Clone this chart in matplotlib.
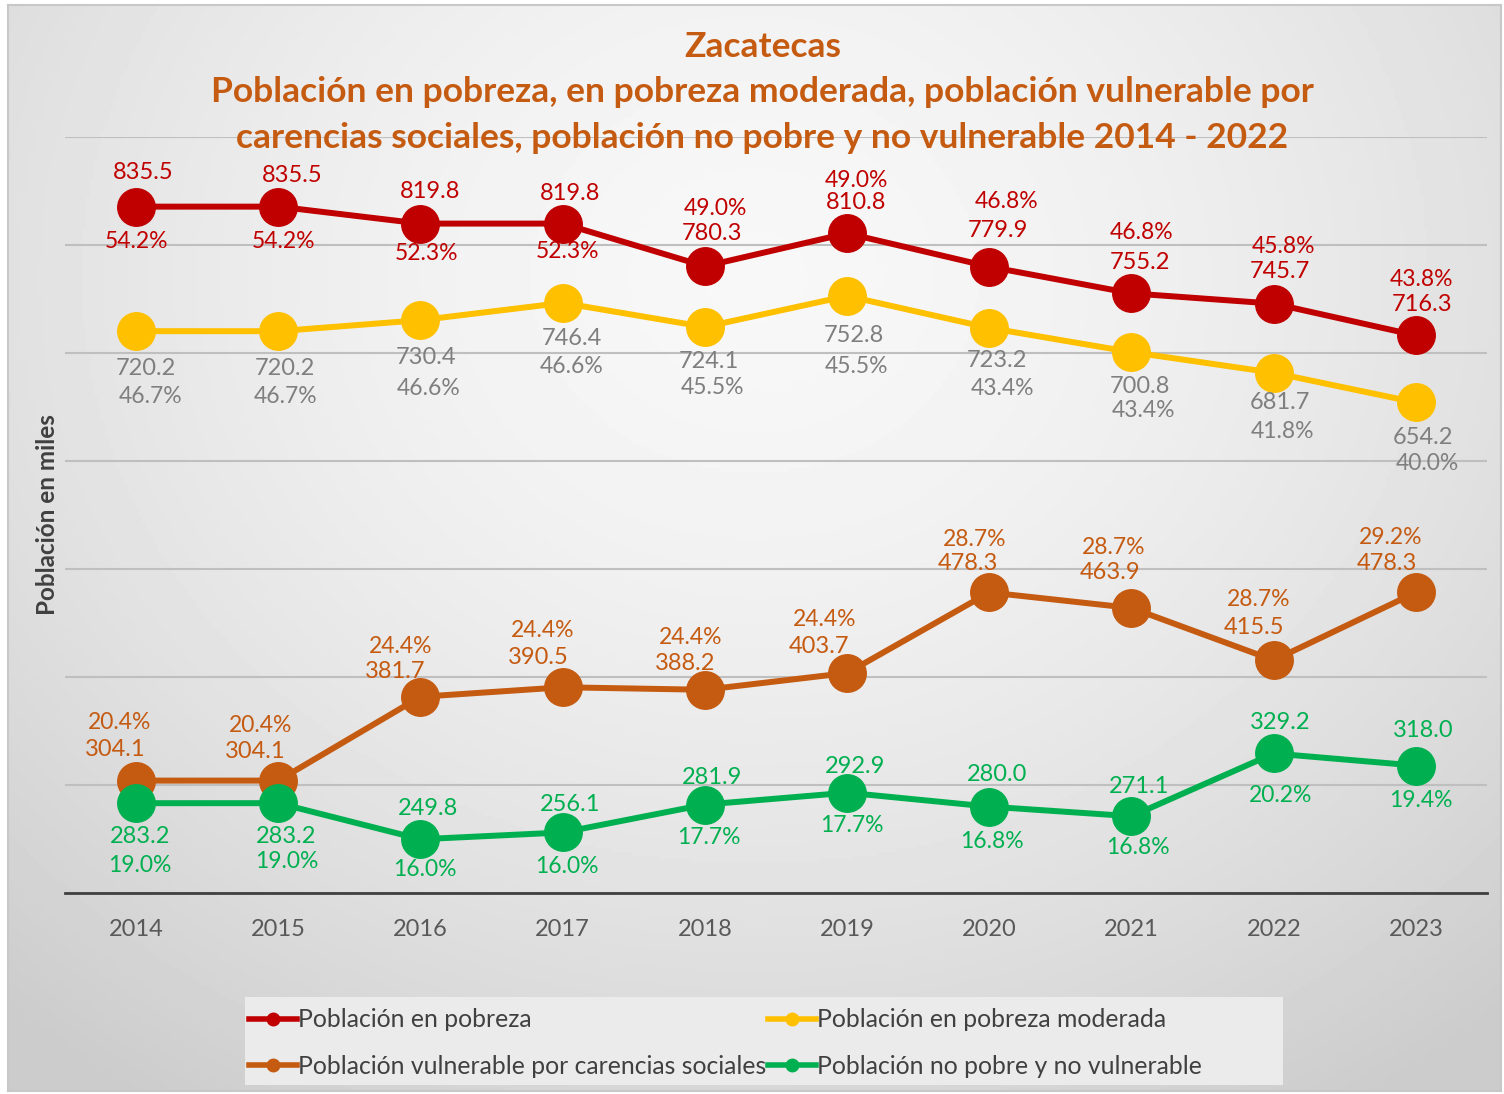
import numpy as np
import matplotlib.pyplot as plt
from matplotlib.lines import Line2D
from matplotlib.patches import Rectangle

plt.rcParams['font.family'] = ['Lato', 'DejaVu Sans']

# datos
anios = ['2014', '2015', '2016', '2017', '2018', '2019', '2020', '2021', '2022', '2023']
pobreza = [835.5, 835.5, 819.8, 819.8, 780.3, 810.8, 779.9, 755.2, 745.7, 716.3]
pobreza_pct = ['54.2%', '54.2%', '52.3%', '52.3%', '49.0%', '49.0%', '46.8%', '46.8%', '45.8%', '43.8%']
moderada = [720.2, 720.2, 730.4, 746.4, 724.1, 752.8, 723.2, 700.8, 681.7, 654.2]
moderada_pct = ['46.7%', '46.7%', '46.6%', '46.6%', '45.5%', '45.5%', '43.4%', '43.4%', '41.8%', '40.0%']
vulnerable = [304.1, 304.1, 381.7, 390.5, 388.2, 403.7, 478.3, 463.9, 415.5, 478.3]
vulnerable_pct = ['20.4%', '20.4%', '24.4%', '24.4%', '24.4%', '24.4%', '28.7%', '28.7%', '28.7%', '29.2%']
no_pobre = [283.2, 283.2, 249.8, 256.1, 281.9, 292.9, 280.0, 271.1, 329.2, 318.0]
no_pobre_pct = ['19.0%', '19.0%', '16.0%', '16.0%', '17.7%', '17.7%', '16.8%', '16.8%', '20.2%', '19.4%']

# desplazamientos de etiquetas (pixeles): valor, porcentaje
off_pob_v = [(7, 34), (14, 31), (10, 32), (7, 30), (7, 33), (9, 31), (9, 36), (8, 31), (6, 32), (6, 31)]
off_pob_p = [(0, -35), (5, -35), (6, -30), (5, -28), (11, 58), (9, 53), (17, 65), (10, 61), (10, 57), (6, 56)]
off_mod_v = [(10, -37), (7, -37), (6, -37), (9, -36), (4, -35), (7, -40), (8, -33), (8, -34), (6, -30), (7, -35)]
off_mod_p = [(14, -65), (7, -65), (8, -68), (9, -64), (8, -61), (9, -71), (13, -61), (12, -58), (9, -59), (11, -61)]
off_vul_v = [(-21, 31), (-23, 29), (-25, 25), (-24, 30), (-20, 26), (-28, 27), (-21, 29), (-21, 35), (-20, 33), (-29, 29)]
off_vul_p = [(-17, 58), (-18, 55), (-20, 50), (-20, 57), (-14, 52), (-22, 54), (-15, 53), (-18, 60), (-15, 61), (-25, 55)]
off_np_v = [(4, -33), (8, -33), (8, 31), (7, 28), (7, 27), (8, 26), (8, 32), (8, 30), (6, 31), (7, 35)]
off_np_p = [(4, -62), (9, -58), (4, -30), (4, -34), (4, -33), (5, -33), (3, -35), (6, -31), (7, -42), (5, -35)]

rojo = '#C00000'
amarillo = '#FFC000'
naranja = '#C55A11'
verde = '#00B050'

fig = plt.figure(figsize=(15.04, 10.94), dpi=100)

# fondo con degradado
bg = fig.add_axes([0.005, 0.003, 0.993, 0.992])
yy, xx = np.mgrid[0:1:300j, 0:1:400j]
r = np.sqrt(((xx - 0.5) / 0.75) ** 2 + ((yy - 0.25) / 0.9) ** 2)
grad = 0.97 - 0.17 * np.clip(r, 0, 1) ** 1.6
bg.imshow(grad, cmap='gray', vmin=0, vmax=1, aspect='auto', extent=[0, 1, 1, 0])
bg.set_xlim(0, 1)
bg.set_ylim(1, 0)
bg.set_xticks([])
bg.set_yticks([])
for s in bg.spines.values():
    s.set_color('#C8C8C8')
    s.set_linewidth(1.5)
bg.set_zorder(0)

ax = fig.add_axes([0.0432, 0.1837, 0.9455, 0.6911])
ax.set_zorder(1)
ax.patch.set_alpha(0)
x = np.arange(len(anios))

series = [
    (pobreza, pobreza_pct, rojo, rojo, off_pob_v, off_pob_p),
    (moderada, moderada_pct, amarillo, '#7F7F7F', off_mod_v, off_mod_p),
    (vulnerable, vulnerable_pct, naranja, naranja, off_vul_v, off_vul_p),
    (no_pobre, no_pobre_pct, verde, verde, off_np_v, off_np_p),
]
for vals, pcts, col, tcol, ov, op in series:
    ax.plot(x, vals, color=col, lw=4.3, marker='o', ms=27, zorder=3)
    for i in range(len(x)):
        ax.annotate(f'{vals[i]:.1f}', (x[i], vals[i]), xytext=ov[i], textcoords='offset pixels',
                    ha='center', va='center', color=tcol, fontsize=17, zorder=4)
        ax.annotate(pcts[i], (x[i], vals[i]), xytext=op[i], textcoords='offset pixels',
                    ha='center', va='center', color=tcol, fontsize=16.5, zorder=4)

ax.set_xlim(-0.5, len(anios) - 0.5)
ax.set_ylim(200, 900)
ax.set_yticks(np.arange(200, 901, 100))
ax.set_yticklabels([])
ax.tick_params(axis='y', length=0)
ax.tick_params(axis='x', length=0, pad=19, labelsize=17, labelcolor='#595959')
ax.set_xticks(x)
ax.set_xticklabels(anios)
ax.grid(axis='y', color='#BFBFBF', lw=1.5, zorder=1)
for s in ['top', 'right', 'left']:
    ax.spines[s].set_visible(False)
ax.spines['bottom'].set_color('#404040')
ax.spines['bottom'].set_linewidth(2)
ax.set_ylabel('Población en miles', fontsize=17.5, fontweight='bold', color='#404040', labelpad=1)

titulo = ['Zacatecas',
          'Población en pobreza, en pobreza moderada, población vulnerable por',
          'carencias sociales, población no pobre y no vulnerable 2014 - 2022']
for k, t in enumerate(titulo):
    fig.text(0.507, 0.957 - 0.0415 * k, t, ha='center', va='center', fontsize=25.5,
             fontweight='bold', color=naranja)

# leyenda
fig.patches.append(Rectangle((245 / 1504, 1 - 1085 / 1094), 1038 / 1504, 88 / 1094,
                             transform=fig.transFigure, facecolor='#EBEBEB', edgecolor='none', zorder=4))
nombres = ['Población en pobreza', 'Población vulnerable por carencias sociales',
           'Población en pobreza moderada', 'Población no pobre y no vulnerable']
handles = [Line2D([], [], color=c, lw=4, marker='o', ms=9) for c in [rojo, naranja, amarillo, verde]]
leg = fig.legend(handles, nombres, loc='center left', bbox_to_anchor=(0.1655, 0.0465),
                 ncol=2, fontsize=17.8, frameon=False,
                 handlelength=1.95, handletextpad=0.05, columnspacing=0.05, labelspacing=0.95,
                 labelcolor='#404040', borderaxespad=0, borderpad=0)
leg.set_zorder(5)

fig.savefig('out.png', dpi=100)
